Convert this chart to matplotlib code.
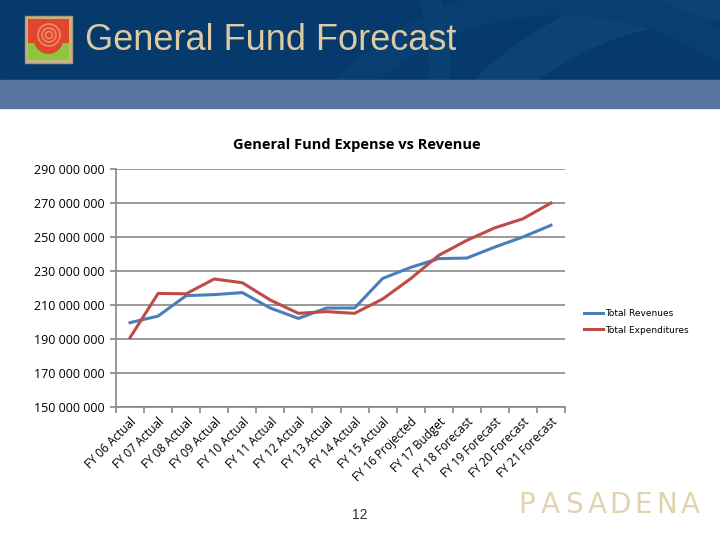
import matplotlib
matplotlib.use("Agg")
import matplotlib.pyplot as plt
import matplotlib.patches as mpatches
from matplotlib.ticker import FuncFormatter
import numpy as np

# chart data (values in dollars)
categories = ["FY 06 Actual", "FY 07 Actual", "FY 08 Actual", "FY 09 Actual",
              "FY 10 Actual", "FY 11 Actual", "FY 12 Actual", "FY 13 Actual",
              "FY 14 Actual", "FY 15 Actual", "FY 16 Projected", "FY 17 Budget",
              "FY 18 Forecast", "FY 19 Forecast", "FY 20 Forecast", "FY 21 Forecast"]
revenues = [199.6e6, 203.5e6, 215.5e6, 216.1e6, 217.3e6, 208.2e6, 202.1e6, 208.2e6,
            208.2e6, 225.6e6, 232.1e6, 237.3e6, 237.6e6, 244.1e6, 250.0e6, 256.9e6]
expenditures = [190.8e6, 216.8e6, 216.6e6, 225.3e6, 223.1e6, 212.9e6, 205.1e6, 206.1e6,
                205.1e6, 213.5e6, 225.5e6, 239.2e6, 248.0e6, 255.4e6, 260.7e6, 270.0e6]
y_ticks = [150e6, 170e6, 190e6, 210e6, 230e6, 250e6, 270e6, 290e6]

W, H = 720, 540
fig = plt.figure(figsize=(7.2, 5.4), dpi=100)
fig.patch.set_facecolor("white")

# slide decoration layer in pixel coordinates
bg = fig.add_axes([0, 0, 1, 1], zorder=0)
bg.set_xlim(0, W)
bg.set_ylim(H, 0)
bg.axis("off")
bg.add_patch(mpatches.Rectangle((0, 0), W, 80, color="#063a6d", zorder=1))
# soft swooshes in the header
header_clip = mpatches.Rectangle((0, 0), W, 80, transform=bg.transData)
for cx, cy, r, lw, col in [(720, 330, 330, 30, "#0b4376"), (560, 300, 300, 22, "#083e72"),
                           (170, 70, 270, 16, "#0a4174")]:
    arc = bg.add_patch(mpatches.Circle((cx, cy), r, fill=False, lw=lw, ec=col, zorder=2))
    arc.set_clip_path(header_clip)
bg.add_patch(mpatches.Rectangle((0, 80), W, 28, color="#56759f", zorder=3))

# logo
bg.add_patch(mpatches.Rectangle((25, 16), 47, 47, fc="#c9b48a", ec="#b09a70", lw=1, zorder=4))
bg.add_patch(mpatches.Rectangle((28, 19), 41, 41, fc="#8cc63f", zorder=5))
bg.add_patch(mpatches.Rectangle((28, 19), 41, 24, fc="#e0462b", zorder=5))
bg.add_patch(mpatches.Ellipse((48.5, 38), 30, 32, fc="#e0462b", zorder=5))
for r in [11, 7, 3.5]:
    bg.add_patch(mpatches.Circle((49, 35), r, fill=False, ec="#f08a6a", lw=1.2, zorder=6))

bg.text(85, 40, "General Fund Forecast", fontsize=26, color="#dccaa2",
        family="Liberation Sans", va="center", ha="left", zorder=6)

bg.text(357, 145, "General Fund Expense vs Revenue", fontsize=10.5, fontweight="bold",
        family="Open Sans", ha="center", va="center", zorder=6)

bg.text(360, 515, "12", fontsize=10, color="#333333", family="Liberation Sans",
        ha="center", va="center", zorder=6)

for i, ch in enumerate("PASADENA"):
    bg.text(527 + i * 23.3, 505, ch, fontsize=20, color="#e2d2ae",
            family="DejaVu Sans", ha="center", va="center", zorder=6)

# chart
ax = fig.add_axes([116 / W, 1 - 407 / H, (565 - 116) / W, (407 - 169) / H], zorder=2)
ax.patch.set_alpha(0)
x = np.arange(len(categories))
ax.plot(x, revenues, color="#4a7ebb", lw=2.2, label="Total Revenues", solid_joinstyle="round")
ax.plot(x, expenditures, color="#be4b48", lw=2.2, label="Total Expenditures", solid_joinstyle="round")

ax.set_xlim(-0.5, len(categories) - 0.5)
ax.set_ylim(y_ticks[0], y_ticks[-1])
ax.set_yticks(y_ticks)
ax.yaxis.set_major_formatter(FuncFormatter(lambda v, p: f"{int(v):,}".replace(",", " ")))
ax.grid(axis="y", color="#878787", lw=1.2)
ax.set_axisbelow(True)
for s in ["top", "right"]:
    ax.spines[s].set_visible(False)
for s in ["left", "bottom"]:
    ax.spines[s].set_color("#878787")
    ax.spines[s].set_linewidth(1.2)

ax.set_xticks(x)
ax.set_xticklabels(categories, rotation=45, ha="right", rotation_mode="anchor",
                   fontsize=8.5, family="Open Sans")
ax.set_xticks(np.arange(len(categories) + 1) - 0.5, minor=True)
ax.tick_params(axis="x", which="major", length=0, pad=6)
ax.tick_params(axis="x", which="minor", length=4, color="#878787", width=1.2)
ax.tick_params(axis="y", length=4, color="#878787", width=1.2, labelsize=9, pad=4)
for lab in ax.get_yticklabels():
    lab.set_family("Open Sans")

ax.legend(loc="center left", bbox_to_anchor=(580 / W, 1 - 322 / H), bbox_transform=fig.transFigure,
          frameon=False, fontsize=6.5, handlelength=2.2, handletextpad=0.2, labelspacing=0.8,
          borderaxespad=0)

fig.savefig("out.png", dpi=100)
